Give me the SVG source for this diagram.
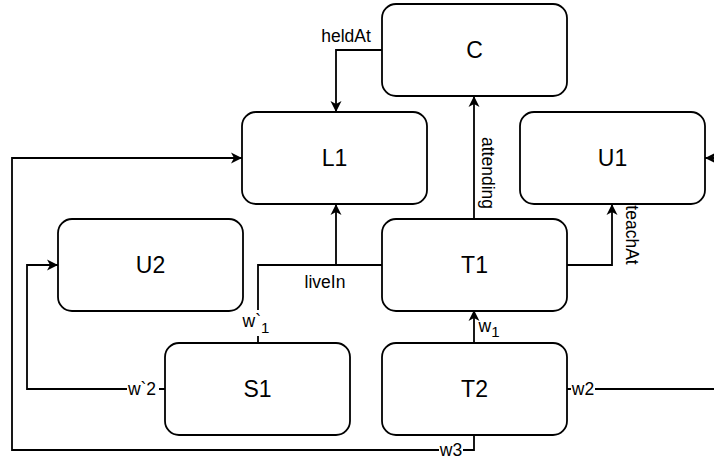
<svg xmlns="http://www.w3.org/2000/svg" width="714" height="459" viewBox="0 0 714 459">
  <style>
    .node rect { fill: #ffffff; stroke: #000000; stroke-width: 1.8; }
    .node text { font-family: "Liberation Sans", Arial, sans-serif; font-size: 23px; fill: #000000; text-anchor: middle; dominant-baseline: central; }
    .edge { fill: none; stroke: #000000; stroke-width: 1.8; }
    .arrow { marker-end: url(#head); }
    .lbl { font-family: "Liberation Sans", Arial, sans-serif; font-size: 17.5px; fill: #000000; text-anchor: middle; dominant-baseline: central; }
    .sub { font-size: 15px; }
    .bg { fill: #ffffff; }
  </style>
  <defs>
    <marker id="head" markerUnits="userSpaceOnUse" markerWidth="12" markerHeight="12" refX="11" refY="6" orient="auto">
      <path d="M0,0.5 L11,6 L0,11.5 L3,6 Z" fill="#000000"/>
    </marker>
  </defs>
  <rect width="714" height="459" fill="#ffffff"/>

  <!-- connectors -->
  <g id="connectors">
    <!-- heldAt: C -> L1 -->
    <path class="edge arrow" d="M382,50 H336 V112"/>
    <text class="lbl" x="346" y="36">heldAt</text>

    <!-- attending: T1 -> C -->
    <path class="edge arrow" d="M474,219 V96"/>
    <text class="lbl" transform="translate(488,173) rotate(90)">attending</text>

    <!-- teachAt: T1 -> U1 -->
    <path class="edge arrow" d="M567,265 H612 V204"/>
    <text class="lbl" transform="translate(632,235) rotate(90)">teachAt</text>

    <!-- liveIn: T1 -> L1 -->
    <path class="edge arrow" d="M382,265 H336 V204"/>
    <text class="lbl" x="325" y="282">liveIn</text>

    <!-- w`1: S1 -> L1 -->
    <path class="edge" d="M258,343 V265 H336"/>
    <rect class="bg" x="244" y="310" width="30" height="26"/>
    <text class="lbl" x="256" y="321">w`<tspan class="sub" dy="6">1</tspan></text>

    <!-- w`2: S1 -> U2 -->
    <path class="edge arrow" d="M165,389 H27 V265 H58"/>
    <rect class="bg" x="127" y="380" width="32" height="18"/>
    <text class="lbl" x="142" y="389">w`2</text>

    <!-- w1: T2 -> T1 -->
    <path class="edge arrow" d="M474,343 V310"/>
    <text class="lbl" x="489" y="326">w<tspan class="sub" dy="5">1</tspan></text>

    <!-- w2: T2 -> U1 (routed off the right edge) -->
    <path class="edge arrow" d="M567,389 H730 V158 H705"/>
    <rect class="bg" x="571" y="380" width="24" height="18"/>
    <text class="lbl" x="583" y="389">w2</text>

    <!-- w3: T2 -> L1 -->
    <path class="edge arrow" d="M474,436 V450 H12 V158 H242"/>
    <rect class="bg" x="439" y="442" width="24" height="16"/>
    <text class="lbl" x="451" y="449.5">w3</text>
  </g>

  <!-- nodes -->
  <g id="C" class="node">
    <rect x="382" y="4" width="185" height="92" rx="14"/>
    <text x="474.5" y="50">C</text>
  </g>
  <g id="L1" class="node">
    <rect x="242" y="112" width="185" height="92" rx="14"/>
    <text x="334.5" y="158">L1</text>
  </g>
  <g id="U1" class="node">
    <rect x="520" y="112" width="185" height="92" rx="14"/>
    <text x="612.5" y="158">U1</text>
  </g>
  <g id="U2" class="node">
    <rect x="58" y="219" width="185" height="92" rx="14"/>
    <text x="150.5" y="265">U2</text>
  </g>
  <g id="T1" class="node">
    <rect x="382" y="219" width="185" height="92" rx="14"/>
    <text x="474.5" y="265">T1</text>
  </g>
  <g id="S1" class="node">
    <rect x="165" y="343" width="185" height="92" rx="14"/>
    <text x="257.5" y="389">S1</text>
  </g>
  <g id="T2" class="node">
    <rect x="382" y="343" width="185" height="92" rx="14"/>
    <text x="474.5" y="389">T2</text>
  </g>
</svg>
